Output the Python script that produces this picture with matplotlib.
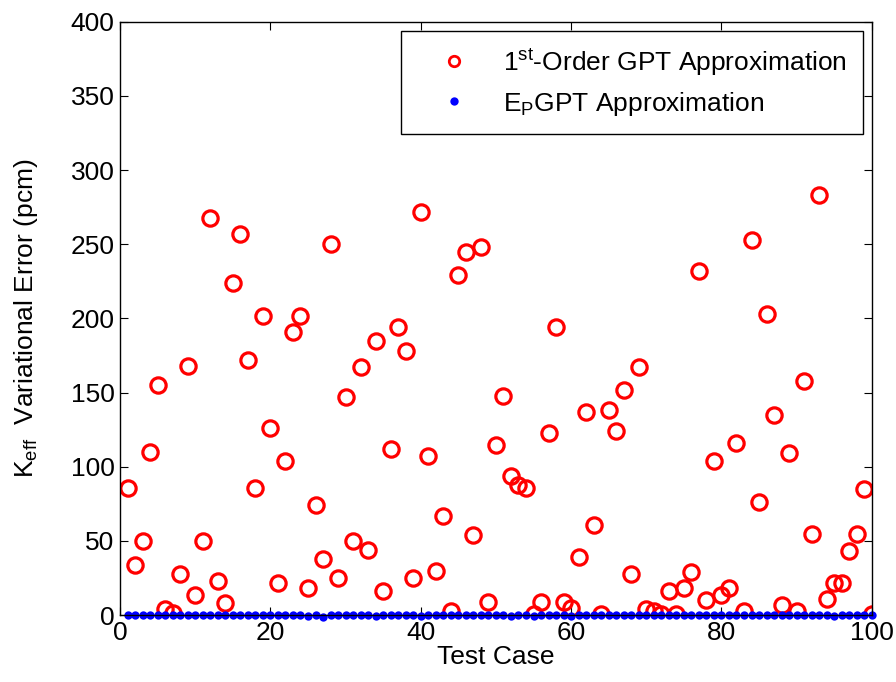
import matplotlib
matplotlib.use("Agg")
import matplotlib.pyplot as plt

plt.rcParams['font.family'] = ['Liberation Sans', 'DejaVu Sans']
plt.rcParams['mathtext.fontset'] = 'custom'
plt.rcParams['mathtext.rm'] = 'Liberation Sans'
plt.rcParams['mathtext.it'] = 'Liberation Sans'
plt.rcParams['mathtext.default'] = 'regular'

# test case index
cases = list(range(1, 101))

# 1st-order GPT variational error (pcm)
first_order = [86, 34, 50, 110, 155, 4, 1.5, 28, 168, 13.5,
               50, 268, 23, 8, 224, 257, 172, 86, 202, 126,
               22, 104, 191, 202, 18, 74, 38, 250, 25, 147,
               50, 167, 44, 185, 16, 112, 194, 178, 25, 272,
               107, 30, 67, 3, 229, 245, 54, 248, 9, 115,
               148, 94, 88, 86, 1, 9, 123, 194, 9, 5,
               39, 137, 61, 1, 138, 124, 152, 28, 167, 4,
               3, 1, 16, 1, 18, 29, 232, 10, 104, 13.5,
               18, 116, 3, 253, 76, 203, 135, 7, 109, 3,
               158, 55, 283, 11, 22, 22, 43, 55, 85, 1]

# EPGPT variational error (pcm), essentially zero
ep_gpt = [0.3, 0.3, 0.3, 0.3, 0.3, 0.3, 0.3, 0.3, 0.3, 0.3,
          0.3, 0.3, 0.3, 0.3, 0.3, 0.3, 0.3, 0.3, 0.3, 0.3,
          0.3, 0.3, 0.3, 0.3, -0.5, 0.3, -1.0, 0.3, 0.3, 0.3,
          0.3, 0.3, 0.3, -0.5, 0.3, 0.3, 0.3, 0.3, 0.3, -0.8,
          0.3, 0.3, 0.3, 0.3, 0.3, 0.3, 0.3, 0.3, 0.3, 0.3,
          0.3, -0.8, 0.3, 0.3, -0.5, 0.3, 0.3, 0.3, 0.3, -0.5,
          0.3, 0.3, 0.3, 0.3, 0.3, 0.3, 0.3, 0.3, 0.3, 0.3,
          0.3, 0.3, 0.3, 0.3, 0.3, 0.3, 0.3, 0.3, 0.3, 0.3,
          0.3, 0.3, 0.3, 0.3, 0.3, 0.3, 0.3, 0.3, 0.3, 0.3,
          0.3, 0.3, 0.3, 0.3, -0.5, 0.3, 0.3, 0.3, 0.3, 0.3]

fig = plt.figure(figsize=(8.96, 6.82), dpi=100)
ax = fig.add_axes([0.134, 0.098, 0.839, 0.870])

ax.plot(cases, first_order, 'o', mfc='none', mec='red', ms=11, mew=2.3,
        label='1$^{st}$-Order GPT Approximation')
ax.plot(cases, ep_gpt, 'o', color='blue', ms=6, mew=0,
        label='E$_P$GPT Approximation', clip_on=False)

ax.set_xlim(0, 100)
ax.set_ylim(0, 400)
ax.set_xticks(range(0, 101, 20))
ax.set_yticks(range(0, 401, 50))
ax.tick_params(direction='in', top=True, right=True, labelsize=19, length=6,
               pad=4)
for s in ax.spines.values():
    s.set_linewidth(1)

ax.set_xlabel('Test Case', fontsize=19, labelpad=0)
ax.set_ylabel('K$_{eff}$  Variational Error (pcm)', fontsize=19, labelpad=22)

leg = ax.legend(loc='upper right', fontsize=19, numpoints=1, fancybox=False,
                edgecolor='black', framealpha=1, borderaxespad=0.35,
                handletextpad=0.45, borderpad=0.6, handlelength=2.8,
                labelspacing=0.45)
leg.get_frame().set_linewidth(1)
leg.legend_handles[0].set_markersize(7.5)
leg.legend_handles[0].set_markeredgewidth(2.0)

fig.savefig('out.png', dpi=100)
